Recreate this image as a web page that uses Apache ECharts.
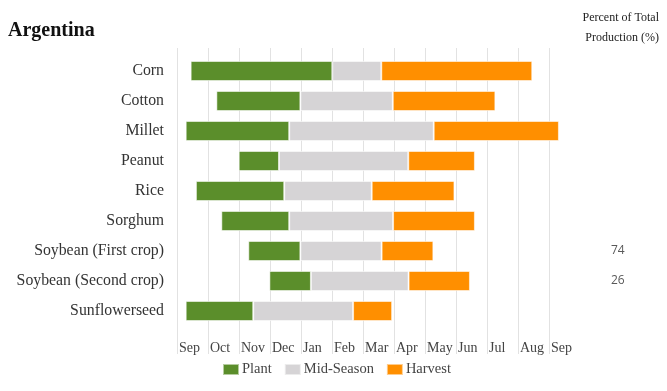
<!DOCTYPE html>
<html><head><meta charset="utf-8">
<script src="https://cdn.jsdelivr.net/npm/echarts@6/dist/echarts.min.js"></script>
<style>html,body{margin:0;padding:0;background:#fff}#c{width:667px;height:391px}</style>
</head><body><div id="c"></div>
<script>
// Months since Sep 1
const crops = ['Corn','Cotton','Millet','Peanut','Rice','Sorghum','Soybean (First crop)','Soybean (Second crop)','Sunflowerseed'];
const plantStart   = [0.44, 1.27, 0.28, 1.99, 0.61, 1.43, 2.30, 2.98, 0.28];
const midStart     = [5.01, 3.98, 3.62, 3.29, 3.46, 3.62, 3.98, 4.32, 2.46];
const harvestStart = [6.59, 6.96, 8.28, 7.46, 6.28, 6.97, 6.60, 7.47, 5.68];
const harvestEnd   = [11.46, 10.27, 12.32, 9.61, 8.95, 9.61, 8.27, 9.45, 6.94];
const shareLabels  = ['', '', '', '', '', '', '74', '26', ''];
const monthLabels  = ['Sep','Oct','Nov','Dec','Jan','Feb','Mar','Apr','May','Jun','Jul','Aug','Sep'];

const serif = '"Liberation Serif", "Times New Roman", serif';
const green = '#5b8e2b', grey = '#d6d4d6', orange = '#ff8f00';
const dur = (a, b) => a.map((v, i) => +(b[i] - v).toFixed(3));

const chart = echarts.init(document.getElementById('c'), null, {renderer: 'canvas'});
const barStyle = c => ({color: c, borderColor: 'rgba(255,255,255,0.55)', borderWidth: 1});
const noteStyle = {fontFamily: serif, fontSize: 12, fontWeight: 'normal', color: '#222'};
chart.setOption({
  animation: false,
  title: [
    {text: 'Argentina', left: 3, top: 16, textStyle: {fontFamily: serif, fontSize: 20, fontWeight: 'bold', color: '#111'}},
    {text: 'Percent of Total', right: 3, top: 7, textStyle: noteStyle},
    {text: 'Production (%)', right: 3, top: 27, textStyle: noteStyle}
  ],
  legend: {
    data: ['Plant', 'Mid-Season', 'Harvest'], left: 217, top: 357, icon: 'rect',
    itemWidth: 16, itemHeight: 11, itemGap: 12,
    textStyle: {fontFamily: serif, fontSize: 14.5, color: '#444', padding: [0,0,0,-2]}
  },
  grid: [
    {left: 177, top: 56, width: 403, height: 270},
    {left: 177, top: 48, width: 372, bottom: 51}
  ],
  xAxis: [
    {gridIndex: 0, type: 'value', min: 0, max: 13, show: false},
    {gridIndex: 1, type: 'value', min: 0, max: 12, interval: 1,
     axisLine: {show: false},
     axisTick: {show: true, length: 14, lineStyle: {color: '#e2e2e2'}},
     splitLine: {show: true, lineStyle: {color: '#e2e2e2', width: 1}},
     axisLabel: {margin: 1, align: 'left', padding: [0,0,0,2], fontFamily: serif, fontSize: 14, color: '#444',
       formatter: v => monthLabels[Math.round(v)]}}
  ],
  yAxis: [
    {gridIndex: 0, type: 'category', data: crops, inverse: true,
     axisLine: {show: false}, axisTick: {show: false},
     axisLabel: {margin: 13, fontFamily: serif, fontSize: 15.8, color: '#333'}},
    {gridIndex: 0, type: 'category', data: shareLabels, inverse: true, position: 'right',
     axisLine: {show: false}, axisTick: {show: false},
     axisLabel: {margin: 31, align: 'left', fontFamily: '"Open Sans", "DejaVu Sans", sans-serif', fontSize: 12, color: '#595959'}},
    {gridIndex: 1, type: 'value', show: false}
  ],
  series: [
    {name: 'offset', type: 'bar', stack: 's', xAxisIndex: 0, yAxisIndex: 0, data: plantStart,
     itemStyle: {color: 'transparent'}, barWidth: 20, silent: true},
    {name: 'Plant', type: 'bar', stack: 's', xAxisIndex: 0, yAxisIndex: 0, data: dur(plantStart, midStart), itemStyle: barStyle(green), barWidth: 20},
    {name: 'Mid-Season', type: 'bar', stack: 's', xAxisIndex: 0, yAxisIndex: 0, data: dur(midStart, harvestStart), itemStyle: barStyle(grey), barWidth: 20},
    {name: 'Harvest', type: 'bar', stack: 's', xAxisIndex: 0, yAxisIndex: 0, data: dur(harvestStart, harvestEnd), itemStyle: barStyle(orange), barWidth: 20}
  ]
});
</script></body></html>
